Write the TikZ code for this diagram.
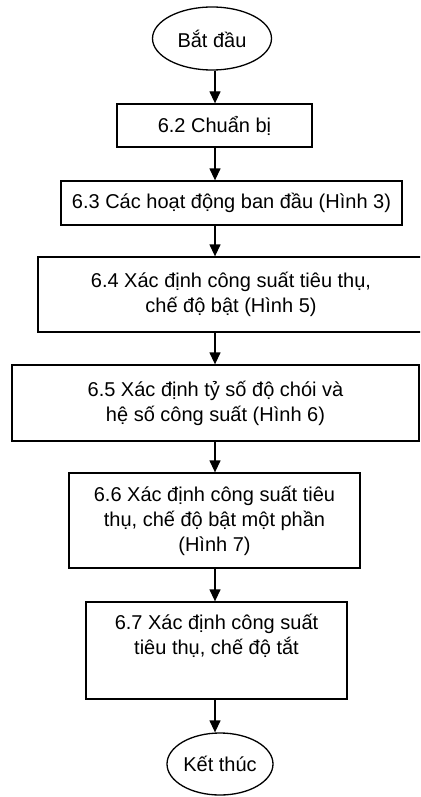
\documentclass[tikz,border=0pt]{standalone}
\usepackage{fontspec}
\setmainfont{Liberation Sans}
\usetikzlibrary{arrows.meta,shapes.geometric}
\tikzset{
  x=1pt, y=-1pt,
  every node/.style={font=\fontsize{20}{25}\selectfont, align=center, inner sep=0pt},
  stepbox/.style={draw, line width=1.3pt, rectangle},
  term/.style={draw, line width=1.3pt, ellipse},
  arr/.style={line width=1.3pt, -{Triangle[width=11pt,length=12pt]}}
}
\begin{document}
\begin{tikzpicture}
\useasboundingbox (0,0) rectangle (420,797);
\clip (0,0) rectangle (420,797);
\coordinate (col) at (215,0);
\node[term, minimum width=119, minimum height=63] (start) at (212,38.5) {Bắt đầu};
\node[stepbox, minimum width=195, minimum height=43] (p62) at (214.5,125.5) {6.2 Chuẩn bị};
\node[stepbox, minimum width=341, minimum height=44] (p63) at (231.5,203) {6.3 Các hoạt động ban đầu (Hình 3)};
\node[stepbox, minimum width=386, minimum height=75] (p64) at (231,294.5) {6.4 Xác định công suất tiêu thụ,\\ chế độ bật (Hình 5)};
\node[stepbox, minimum width=407, minimum height=76] (p65) at (215.5,403) {6.5 Xác định tỷ số độ chói và\\ hệ số công suất (Hình 6)};
\node[stepbox, minimum width=291, minimum height=95] (p66) at (214.5,520.5) {6.6 Xác định công suất tiêu\\ thụ, chế độ bật một phần\\ (Hình 7)};
\node[stepbox, minimum width=261, minimum height=97] (p67) at (216.5,650.5) {6.7 Xác định công suất\\ tiêu thụ, chế độ tắt\\ \strut};
\node[term, minimum width=106, minimum height=62] (stop) at (220,764) {Kết thúc};
\draw[arr] (col |- start.south) -- (col |- p62.north);
\draw[arr] (col |- p62.south) -- (col |- p63.north);
\draw[arr] (col |- p63.south) -- (col |- p64.north);
\draw[arr] (col |- p64.south) -- (col |- p65.north);
\draw[arr] (col |- p65.south) -- (col |- p66.north);
\draw[arr] (col |- p66.south) -- (col |- p67.north);
\draw[arr] (col |- p67.south) -- (col |- stop.north);
\end{tikzpicture}
\end{document}
